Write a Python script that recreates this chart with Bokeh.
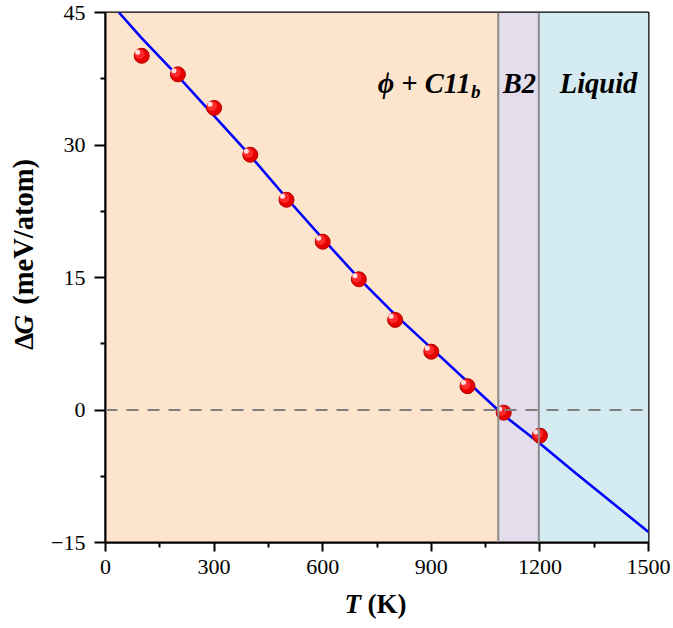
import math
from bokeh.plotting import figure
from bokeh.layouts import row, column
from bokeh.models import Range1d, Label, FixedTicker, Span
from bokeh.embed import file_html
from bokeh.resources import INLINE

# ---- data ----
T_pts = [100, 200, 300, 400, 500, 600, 700, 800, 900, 1000, 1100, 1200]
dG_pts = [40.1, 38.0, 34.2, 28.9, 23.8, 19.05, 14.8, 10.2, 6.6, 2.7, -0.3, -2.9]

T_fit = [37, 100, 200, 300, 400, 500, 600, 700, 800, 900, 1000, 1100, 1200, 1300, 1400, 1500]
dG_fit = [45.0, 42.1, 37.8, 33.3, 28.8, 24.0, 19.4, 14.9, 10.8, 7.0, 3.2, -0.6, -3.8, -7.2, -10.5, -13.8]

phase_left = [0, 1085, 1197]
phase_right = [1085, 1197, 1500]
phase_colors = ["#FDE4CC", "#E4DEEC", "#D4ECF1"]
phase_names = ["\u03d5 + C11", "B2", "Liquid"]

x_ticks = [0, 300, 600, 900, 1200, 1500]
y_ticks = [-15, 0, 15, 30, 45]

SERIF = "Liberation Serif"


def blank(w, h):
    f = figure(width=w, height=h, output_backend="svg", toolbar_location=None,
               x_range=Range1d(0, w), y_range=Range1d(0, h),
               x_axis_type=None, y_axis_type=None, min_border=0)
    f.grid.visible = False
    f.outline_line_color = None
    f.background_fill_color = "white"
    f.border_fill_color = "white"
    return f


p = figure(width=625, height=586, output_backend="svg", toolbar_location=None,
           x_range=Range1d(0, 1500), y_range=Range1d(-15, 45),
           min_border_left=57, min_border_right=25, min_border_top=12, min_border_bottom=44)
p.grid.visible = False
p.border_fill_color = "white"
p.outline_line_color = "black"
p.outline_line_width = 2

# phase regions
p.quad(left=phase_left, right=phase_right, bottom=-15, top=45, fill_color=phase_colors, line_color=None)
for b in phase_right[:2]:
    p.add_layout(Span(location=b, dimension="height", line_color="#8a8a8a", line_width=2))

# zero line
p.add_layout(Span(location=0, dimension="width", line_color="#808080", line_width=2, line_dash="12 9"))

# fit curve
p.line(T_fit, dG_fit, line_color="#0000FF", line_width=2.6)

# spheres
p.scatter(T_pts, dG_pts, size=15, fill_color="#E80000", line_color="#B00000", line_width=1)
p.scatter([t - 6 for t in T_pts], [g + 0.2 for g in dG_pts], size=10, fill_color="#FF2A2A", line_color=None)
p.scatter([t - 11 for t in T_pts], [g + 0.4 for g in dG_pts], size=5, fill_color="white", fill_alpha=0.85, line_color=None)

# axes
for ax in (p.xaxis[0], p.yaxis[0]):
    ax.axis_line_width = 2
    ax.axis_line_color = "black"
    ax.major_tick_line_width = 2
    ax.minor_tick_line_width = 2
    ax.major_tick_line_color = "black"
    ax.minor_tick_line_color = "black"
    ax.major_tick_in = 0
    ax.minor_tick_in = 0
    ax.major_label_text_font = SERIF
    ax.major_label_text_font_size = "22px"
    ax.major_label_text_color = "black"

p.xaxis.ticker = FixedTicker(ticks=x_ticks, minor_ticks=[150, 450, 750, 1050, 1350])
p.yaxis.ticker = FixedTicker(ticks=y_ticks, minor_ticks=[-7.5, 7.5, 22.5, 37.5])
p.xaxis.major_tick_out = 9
p.xaxis.minor_tick_out = 5
p.yaxis.major_tick_out = 11
p.yaxis.minor_tick_out = 5
p.xaxis.major_label_standoff = 8
p.yaxis.major_label_standoff = 9
p.yaxis.major_label_overrides = {-15: "\u221215"}

# region labels
fs = "28.5px"
common = dict(text_font=SERIF, text_font_style="bold italic", text_color="black", text_baseline="alphabetic")
p.add_layout(Label(x=752, y=36.96, text=phase_names[0], text_font_size=fs, text_align="left", **common))
p.add_layout(Label(x=1010, y=36.06, text="b", text_font_size="19px", text_align="left", **common))
p.add_layout(Label(x=1143, y=36.96, text=phase_names[1], text_font_size=fs, text_align="center", **common))
p.add_layout(Label(x=1362, y=36.96, text=phase_names[2], text_font_size=fs, text_align="center", **common))

# x axis title: T (K)
xt = blank(673, 42)
xt.text(x=[344], y=[25], text=["T"], text_font={"value": SERIF}, text_font_style="bold italic",
        text_font_size="27px", text_color="black", text_baseline="alphabetic", text_align="left")
xt.text(x=[367], y=[25], text=["(K)"], text_font={"value": SERIF}, text_font_style="bold",
        text_font_size="27px", text_color="black", text_baseline="alphabetic", text_align="left")

# y axis title: ΔG (meV/atom)
yt = blank(48, 586)
yt.text(x=[23], y=[213], text=["\u0394"], angle=math.pi / 2, text_font={"value": SERIF}, text_font_style="bold",
        text_font_size="27px", text_color="black", text_baseline="alphabetic", text_align="left")
yt.text(x=[23], y=[230], text=["G"], angle=math.pi / 2, text_font={"value": SERIF}, text_font_style="bold italic",
        text_font_size="27px", text_color="black", text_baseline="alphabetic", text_align="left")
yt.text(x=[23], y=[263], text=["(meV/atom)"], angle=math.pi / 2, text_font={"value": SERIF}, text_font_style="bold",
        text_font_size="28.5px", text_color="black", text_baseline="alphabetic", text_align="left")

layout = column(row(yt, p, spacing=0), xt, spacing=0)
open("out.html", "w").write(file_html(layout, INLINE))
